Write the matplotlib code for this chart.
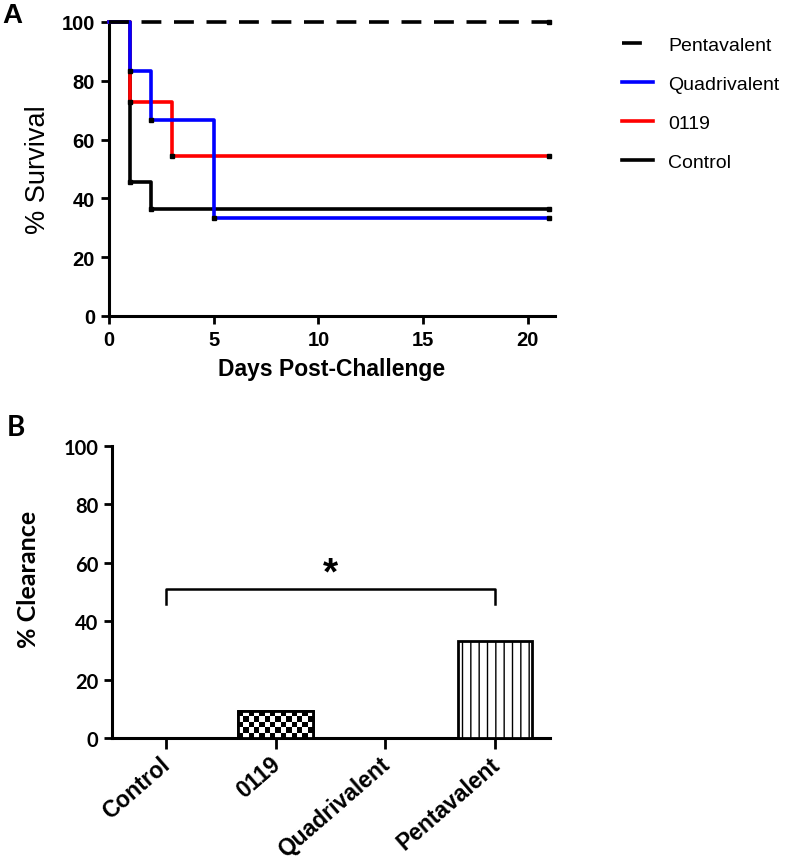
import numpy as np
import matplotlib
matplotlib.use("Agg")
import matplotlib.pyplot as plt
from matplotlib.lines import Line2D
from matplotlib.transforms import ScaledTranslation

# ---- Data ----
days_control = [0, 1, 2, 21]
surv_control = [100, 45.45, 36.36, 36.36]
days_0119 = [0, 1, 3, 21]
surv_0119 = [100, 72.73, 54.55, 54.55]
days_quad = [0, 1, 2, 5, 21]
surv_quad = [100, 83.33, 66.67, 33.33, 33.33]
days_penta = [0, 21]
surv_penta = [100, 100]

groups = ["Control", "0119", "Quadrivalent", "Pentavalent"]
clearance = [0, 9.09, 0, 33.33]
xticks_a = [0, 5, 10, 15, 20]
yticks = [0, 20, 40, 60, 80, 100]
bracket_y = 51
bracket_drop = 5

ARIAL = "Liberation Sans"
CAL = "Lato"

fig = plt.figure(figsize=(8, 8.62), dpi=100)

# ---------------- Panel A ----------------
axA = fig.add_axes([109/800, 1-317/862, (555-109)/800, (317-23)/862])
lw = 2.6
dash = (0, (5.5, 3.5))
axA.step(days_control, surv_control, where="post", color="black", lw=lw, clip_on=False, zorder=3)
axA.step(days_0119, surv_0119, where="post", color="#ff0000", lw=lw, clip_on=False, zorder=4)
axA.step(days_quad, surv_quad, where="post", color="#0000ff", lw=lw, clip_on=False, zorder=5)
axA.plot(days_penta, surv_penta, color="black", lw=lw, ls=dash, clip_on=False, zorder=6)

# small step/censor marks
for d, s in [(days_control, surv_control), (days_0119, surv_0119), (days_quad, surv_quad), (days_penta, surv_penta)]:
    axA.plot(d[1:], s[1:], ls="none", marker="s", ms=3, color="black", clip_on=False, zorder=7)

axA.set_xlim(0, 21.3)
axA.set_ylim(0, 100)
axA.set_xticks(xticks_a)
axA.set_yticks(yticks)
for sp in ["top", "right"]:
    axA.spines[sp].set_visible(False)
for sp in ["left", "bottom"]:
    axA.spines[sp].set_linewidth(2.2)
axA.tick_params(width=2, length=6, labelsize=14.5, pad=4)
for lab in axA.get_xticklabels() + axA.get_yticklabels():
    lab.set_fontfamily(ARIAL)
    lab.set_fontweight("bold")
axA.set_xlabel("Days Post-Challenge", fontsize=16.5, fontweight="bold", family=ARIAL, labelpad=6)
axA.set_ylabel("% Survival", fontsize=19.5, family=ARIAL, labelpad=8)

handles = [
    Line2D([0], [0], color="black", lw=lw, ls=dash),
    Line2D([0], [0], color="#0000ff", lw=lw),
    Line2D([0], [0], color="#ff0000", lw=lw),
    Line2D([0], [0], color="black", lw=lw),
]
leg = fig.legend(handles, ["Pentavalent", "Quadrivalent", "0119", "Control"],
                 loc="upper left", bbox_to_anchor=(604/800, 1-20/862), frameon=False,
                 prop={"family": ARIAL, "size": 14}, handlelength=1.6, handletextpad=0.8,
                 labelspacing=1.1)

fig.text(12/800, 1-16/862, "A", fontsize=20, fontweight="bold", family=ARIAL, ha="center", va="center")

# ---------------- Panel B ----------------
axB = fig.add_axes([112/800, 1-739/862, (550-112)/800, (739-447)/862])
x = np.arange(len(groups))
bw = 0.68
bars = axB.bar(x, clearance, width=bw, color="white", edgecolor="black", linewidth=2, zorder=3)
axB.set_xlim(-0.49, 3.5)
axB.set_ylim(0, 100)

# Pentavalent: vertical hatching
plt.rcParams["hatch.linewidth"] = 1.3
bars[3].set_hatch("||")

# 0119: checkerboard pattern clipped to the bar
b = bars[1]
x0, y0, w, h = b.get_x(), b.get_y(), b.get_width(), b.get_height()
p0 = axB.transData.transform((x0, y0))
p1 = axB.transData.transform((x0 + w, y0 + h))
cell = 5.5
nx = max(1, int(round((p1[0]-p0[0]) / cell)))
ny = max(1, int(round((p1[1]-p0[1]) / cell)))
checker = (np.add.outer(np.arange(ny), np.arange(nx)) % 2).astype(float)
im = axB.imshow(checker, cmap="gray", extent=(x0, x0 + w, y0, y0 + h), aspect="auto",
                interpolation="nearest", zorder=3.5, vmin=0, vmax=1)
im.set_clip_path(b)
axB.bar([x[1]], [clearance[1]], width=bw, color="none", edgecolor="black", linewidth=2, zorder=4)
axB.set_aspect("auto")
axB.set_xlim(-0.49, 3.5)
axB.set_ylim(0, 100)

# significance bracket
axB.plot([x[0], x[0], x[3], x[3]],
         [bracket_y - bracket_drop, bracket_y, bracket_y, bracket_y - bracket_drop],
         color="black", lw=1.8, clip_on=False)
axB.text((x[0] + x[3]) / 2, bracket_y + 5.5, "*", ha="center", va="center",
         fontsize=28, fontweight="bold", family=ARIAL)

for sp in ["top", "right"]:
    axB.spines[sp].set_visible(False)
for sp in ["left", "bottom"]:
    axB.spines[sp].set_linewidth(2.2)
axB.tick_params(axis="y", width=2, length=6, pad=4)
axB.tick_params(axis="x", width=2, length=8, pad=2)
axB.set_xticks(x)
axB.set_xticklabels(groups, rotation=41, ha="right", va="top",
                    fontsize=16.5, fontweight="bold", family=ARIAL)
axB.set_yticks(yticks)
for lab in axB.get_yticklabels():
    lab.set_fontfamily(CAL)
    lab.set_fontweight("bold")
    lab.set_fontsize(14.5)
off = ScaledTranslation(9/100, 0, fig.dpi_scale_trans)
for lab in axB.get_xticklabels():
    lab.set_transform(lab.get_transform() + off)
axB.set_ylabel("% Clearance", fontsize=18, fontweight="bold", family=CAL, labelpad=10)
axB.yaxis.set_label_coords(-0.164, 0.548)

fig.text(16/800, 1-428/862, "B", fontsize=20, fontweight="bold", family=CAL, ha="center", va="center")

fig.savefig("out.png", dpi=100)
